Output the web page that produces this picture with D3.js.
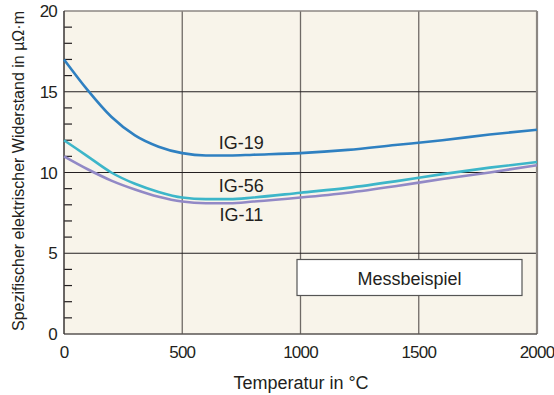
<!DOCTYPE html>
<html>
<head>
<meta charset="utf-8">
<script src="https://cdn.jsdelivr.net/npm/d3@7"></script>
<style>
body { margin: 0; background: #fff; }
svg text { font-family: "Liberation Sans", Arial, sans-serif; fill: #231f20; }
</style>
</head>
<body>
<svg id="chart" width="554" height="395"></svg>
<script>
// Data
const temps = [0, 100, 200, 300, 400, 500, 600, 700, 800, 1000, 1200, 1400, 1600, 1800, 2000];
const ig19 = [17.0, 15.1, 13.45, 12.3, 11.6, 11.2, 11.05, 11.05, 11.1, 11.2, 11.4, 11.7, 12.0, 12.35, 12.65];
const ig56 = [12.0, 11.0, 10.0, 9.3, 8.8, 8.45, 8.35, 8.35, 8.45, 8.75, 9.05, 9.45, 9.9, 10.3, 10.65];
const ig11 = [11.0, 10.2, 9.5, 8.95, 8.5, 8.2, 8.1, 8.1, 8.2, 8.45, 8.75, 9.15, 9.6, 10.0, 10.45];
const seriesNames = ["IG-19", "IG-56", "IG-11"];
const xTicks = [0, 500, 1000, 1500, 2000];
const yTicks = [0, 5, 10, 15, 20];

const svg = d3.select("#chart");
const margin = { left: 64, right: 17, top: 11, bottom: 61 };
const width = 554 - margin.left - margin.right;
const height = 395 - margin.top - margin.bottom;

const x = d3.scaleLinear().domain([0, 2000]).range([margin.left, margin.left + width]);
const y = d3.scaleLinear().domain([0, 20]).range([margin.top + height, margin.top]);

// plot background
svg.append("rect")
    .attr("x", x(0)).attr("y", y(20))
    .attr("width", x(2000) - x(0)).attr("height", y(0) - y(20))
    .attr("fill", "#f8f4ea");

// vertical grid
svg.selectAll(".vgrid")
    .data(xTicks.slice(1, -1))
    .enter().append("line")
    .attr("x1", d => x(d)).attr("x2", d => x(d))
    .attr("y1", y(0)).attr("y2", y(20))
    .attr("stroke", "#6f6a66").attr("stroke-width", 1.3);

// horizontal grid
svg.selectAll(".hgrid")
    .data(yTicks.slice(1, -1))
    .enter().append("line")
    .attr("x1", x(0)).attr("x2", x(2000))
    .attr("y1", d => y(d)).attr("y2", d => y(d))
    .attr("stroke", "#231f20").attr("stroke-width", 1.2);

// minor ticks on the left axis
const minor = d3.range(1, 20).filter(v => v % 5 !== 0);
svg.selectAll(".minor")
    .data(minor)
    .enter().append("line")
    .attr("x1", x(0)).attr("x2", x(0) + 8)
    .attr("y1", d => y(d)).attr("y2", d => y(d))
    .attr("stroke", "#231f20").attr("stroke-width", 1.2);

// frame: top/right gray, left/bottom dark
svg.append("line").attr("x1", x(0)).attr("x2", x(2000)).attr("y1", y(20)).attr("y2", y(20))
    .attr("stroke", "#8c8783").attr("stroke-width", 1.5);
svg.append("line").attr("x1", x(2000)).attr("x2", x(2000)).attr("y1", y(20)).attr("y2", y(0))
    .attr("stroke", "#8c8783").attr("stroke-width", 2.2);
svg.append("line").attr("x1", x(0)).attr("x2", x(2000)).attr("y1", y(0)).attr("y2", y(0))
    .attr("stroke", "#5a5653").attr("stroke-width", 1.5);
svg.append("line").attr("x1", x(0)).attr("x2", x(0)).attr("y1", y(20)).attr("y2", y(0))
    .attr("stroke", "#3a3634").attr("stroke-width", 1.5);

// tick labels
svg.selectAll(".xlab")
    .data(xTicks)
    .enter().append("text")
    .attr("x", d => x(d)).attr("y", y(0) + 24)
    .attr("text-anchor", "middle")
    .attr("font-size", 17).attr("letter-spacing", -0.8)
    .text(d => d);

svg.selectAll(".ylab")
    .data(yTicks)
    .enter().append("text")
    .attr("x", x(0) - 7).attr("y", d => y(d) + 6)
    .attr("text-anchor", "end")
    .attr("font-size", 17).attr("letter-spacing", -0.8)
    .text(d => d);

// axis titles
svg.append("text")
    .attr("x", 301).attr("y", 389)
    .attr("text-anchor", "middle")
    .attr("font-size", 18)
    .text("Temperatur in °C");

svg.append("text")
    .attr("transform", "translate(24,171) rotate(-90)")
    .attr("text-anchor", "middle")
    .attr("font-size", 16)
    .text("Spezifischer elektrischer Widerstand in µΩ·m");

// curves
const colors = ["#2f80c1", "#3db6c9", "#9289c6"];
const line = d3.line()
    .x(d => x(d[0]))
    .y(d => y(d[1]))
    .curve(d3.curveMonotoneX);

[ig19, ig56, ig11].forEach((vals, i) => {
    svg.append("path")
        .datum(temps.map((t, j) => [t, vals[j]]))
        .attr("d", line)
        .attr("fill", "none")
        .attr("stroke", colors[i])
        .attr("stroke-width", 2.6);
});

// series labels
const labelPos = [[750, 149], [750, 192], [750, 221]];
seriesNames.forEach((name, i) => {
    svg.append("text")
        .attr("x", x(labelPos[i][0])).attr("y", labelPos[i][1])
        .attr("text-anchor", "middle")
        .attr("font-size", 18)
        .text(name);
});

// note box
svg.append("rect")
    .attr("x", 297).attr("y", 259.5)
    .attr("width", 225).attr("height", 36)
    .attr("fill", "#fff")
    .attr("stroke", "#555").attr("stroke-width", 1.2);
svg.append("text")
    .attr("x", 409.5).attr("y", 285)
    .attr("text-anchor", "middle")
    .attr("font-size", 18)
    .text("Messbeispiel");
</script>
</body>
</html>
